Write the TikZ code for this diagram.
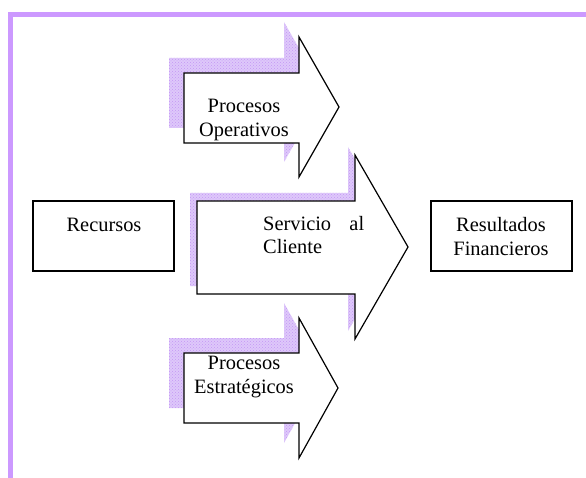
\documentclass[tikz,border=0pt]{standalone}
\usepackage{fontspec}
\setmainfont{Liberation Serif}
\usetikzlibrary{patterns}
\definecolor{framepurple}{RGB}{204,153,255}
\definecolor{shadowfill}{RGB}{222,200,250}
\definecolor{shadowdots}{RGB}{196,150,245}
\tikzset{
  frameline/.style={fill=framepurple, draw=none},
  arrowshadow/.style={fill=shadowfill, draw=none},
  arrowdots/.style={pattern=crosshatch dots, pattern color=shadowdots, draw=none},
  bigarrow/.style={fill=white, draw=black, line width=1.2pt, line join=miter},
  plainbox/.style={fill=white, draw=black, line width=1.2pt},
  txt/.style={inner sep=0pt, anchor=base, font=\fontsize{20.4}{23.5}\selectfont},
  txtw/.style={txt, anchor=base west}
}
\begin{document}
\begin{tikzpicture}[x=1pt,y=-1pt]
\useasboundingbox (0,0) rectangle (586,478);
% frame
\fill[frameline] (8,12) rectangle (586,17);
\fill[frameline] (8,12) rectangle (13,478);
% shadows
\foreach \s in {arrowshadow, arrowdots}{
  \path[\s, shift={(-15,-15)}] (184,73) -- (299,73) -- (299,37) -- (339,107) -- (299,177) -- (299,143) -- (184,143) -- cycle;
  \path[\s, shift={(-7,-8)}] (197,201) -- (355,201) -- (355,155) -- (408,247) -- (355,339) -- (355,294) -- (197,294) -- cycle;
  \path[\s, shift={(-15,-15)}] (184,353) -- (299,353) -- (299,318) -- (338,388) -- (299,458) -- (299,423) -- (184,423) -- cycle;
}
% arrows
\draw[bigarrow] (184,73) -- (299,73) -- (299,37) -- (339,107) -- (299,177) -- (299,143) -- (184,143) -- cycle;
\draw[bigarrow] (197,201) -- (355,201) -- (355,155) -- (408,247) -- (355,339) -- (355,294) -- (197,294) -- cycle;
\draw[bigarrow] (184,353) -- (299,353) -- (299,318) -- (338,388) -- (299,458) -- (299,423) -- (184,423) -- cycle;
% boxes
\draw[plainbox] (33,201) rectangle (174,271);
\draw[plainbox] (431,201) rectangle (572,271);
% texts
\node[txt] (recursos) at (104,232) {Recursos};
\node[txt] (resultados) at (501,232) {Resultados};
\node[txt] (financieros) at (501,256) {Financieros};
\node[txt] (procop) at (244,113) {Procesos};
\node[txt] (operativos) at (244,137) {Operativos};
\node[txtw] (servicio) at (263,231) {\makebox[101pt][s]{Servicio al}};
\node[txtw] (cliente) at (263,254) {Cliente};
\node[txt] (procest) at (244,369) {Procesos};
\node[txt] (estrategicos) at (244,393) {Estratégicos};
\end{tikzpicture}
\end{document}
